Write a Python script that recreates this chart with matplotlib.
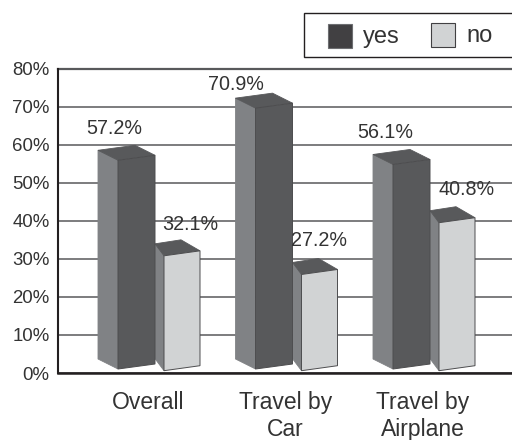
import matplotlib
matplotlib.use("Agg")
import matplotlib.pyplot as plt
from matplotlib.patches import Polygon, Rectangle

plt.rcParams['font.family'] = ['Liberation Sans', 'DejaVu Sans']

categories = ["Overall", "Travel by\nCar", "Travel by\nAirplane"]
yes_values = [57.2, 70.9, 56.1]
no_values = [32.1, 27.2, 40.8]
y_ticks = [0, 10, 20, 30, 40, 50, 60, 70, 80]

# label offsets from the bar's top right corner, in pixels
yes_label_offsets = [(-41, 27), (-57, 19), (-45, 27)]
no_label_offsets = [(-10, 26), (-18, 29), (-8, 28)]

W, H = 512, 440
AX_LEFT, AX_TOP, AX_BOTTOM = 58, 68.5, 373
GROUP_PX = 137.5
FIRST_GROUP_PX = 148
PX_Y = (AX_BOTTOM - AX_TOP) / 80
TEXT = '#333333'
DARK = '#58595b'
SIDE = '#808285'
LIGHT = '#d1d3d4'
EDGE = '#4d4d4f'


def draw_bar(ax, group, value, right_px, width_px, front_color, side_dx, side_dy, back_dx, back_dy, base_px, zorder):
    # sizes are in pixels (dy > 0 is downwards), turned into data units here
    def pt(dx_px, dy_px, top):
        x = group + (right_px + dx_px) / GROUP_PX
        y = value if top else base_px / PX_Y
        return (x, y - dy_px / PX_Y)

    fr_t = pt(0, 0, True)
    fl_t = pt(-width_px, 5, True)
    fr_b = pt(0, 0, False)
    fl_b = pt(-width_px, 5, False)
    br_t = pt(back_dx, back_dy, True)
    bl_t = pt(-width_px + side_dx, 5 + side_dy, True)
    bl_b = pt(-width_px + side_dx, 5 + side_dy, False)

    ax.add_patch(Polygon([bl_t, fl_t, fl_b, bl_b], facecolor=SIDE, edgecolor=SIDE, lw=0.6, zorder=zorder))
    ax.add_patch(Polygon([bl_t, br_t, fr_t, fl_t], facecolor=DARK, edgecolor=DARK, lw=0.6, zorder=zorder))
    ax.add_patch(Polygon([fl_t, fr_t, fr_b, fl_b], facecolor=front_color, edgecolor=EDGE, lw=0.7, zorder=zorder))


def main():
    fig = plt.figure(figsize=(W / 100, H / 100), dpi=100)
    ax = fig.add_axes([AX_LEFT / W, 1 - AX_BOTTOM / H, (W - AX_LEFT) / W, (AX_BOTTOM - AX_TOP) / H])
    ax.set_xlim((AX_LEFT - FIRST_GROUP_PX) / GROUP_PX, (W - FIRST_GROUP_PX) / GROUP_PX)
    ax.set_ylim(0, 80)

    for s in ['top', 'right']:
        ax.spines[s].set_visible(False)
    ax.spines['left'].set_linewidth(1.5)
    ax.spines['bottom'].set_linewidth(1.8)
    ax.spines['left'].set_color('#231f20')
    ax.spines['bottom'].set_color('#231f20')

    ax.set_yticks(y_ticks)
    ax.set_yticklabels([f"{t}%" for t in y_ticks], fontsize=13.4, color=TEXT)
    ax.set_xticks(range(len(categories)))
    ax.set_xticklabels(categories, fontsize=16.5, color=TEXT, linespacing=1.2)
    ax.tick_params(axis='y', length=0, pad=6)
    ax.tick_params(axis='x', length=0, pad=13)
    ax.grid(axis='y', color='#58595b', lw=1.1, zorder=0)
    ax.set_axisbelow(True)
    # top gridline sits on the axes edge
    ax.axhline(80, color='#58595b', lw=1.6, clip_on=False, zorder=1)

    for i in range(len(categories)):
        draw_bar(ax, i, no_values[i], 52, 36, LIGHT, -9, -12, -19, -11, 7.3, 3)
        draw_bar(ax, i, yes_values[i], 7, 37, DARK, -20, -10, -20, -10, 9, 4)

        ax.annotate(f"{yes_values[i]}%", xy=(i + 7 / GROUP_PX, yes_values[i]),
                    xytext=yes_label_offsets[i], textcoords='offset pixels',
                    ha='center', va='center', fontsize=14.2, color=TEXT, zorder=6)
        ax.annotate(f"{no_values[i]}%", xy=(i + 52 / GROUP_PX, no_values[i]),
                    xytext=no_label_offsets[i], textcoords='offset pixels',
                    ha='center', va='center', fontsize=14.2, color=TEXT, zorder=6)

    # legend box, cut off by the right edge
    def fx(px):
        return px / W

    def fy(py):
        return 1 - py / H

    fig.add_artist(Rectangle((fx(304), fy(57)), fx(230), 44 / H, transform=fig.transFigure,
                             facecolor='white', edgecolor='#231f20', lw=1.0))
    fig.add_artist(Rectangle((fx(328), fy(48)), 24 / W, 24 / H, transform=fig.transFigure,
                             facecolor='#414042', edgecolor='#6d6e71', lw=0.8))
    fig.add_artist(Rectangle((fx(431), fy(47)), 24 / W, 24 / H, transform=fig.transFigure,
                             facecolor=LIGHT, edgecolor='#414042', lw=0.8))
    fig.text(fx(363), fy(37), "yes", fontsize=17, color=TEXT, ha='left', va='center')
    fig.text(fx(466), fy(36), "no", fontsize=17, color=TEXT, ha='left', va='center')

    fig.savefig("out.png", dpi=100)
    plt.close(fig)


if __name__ == "__main__":
    main()
